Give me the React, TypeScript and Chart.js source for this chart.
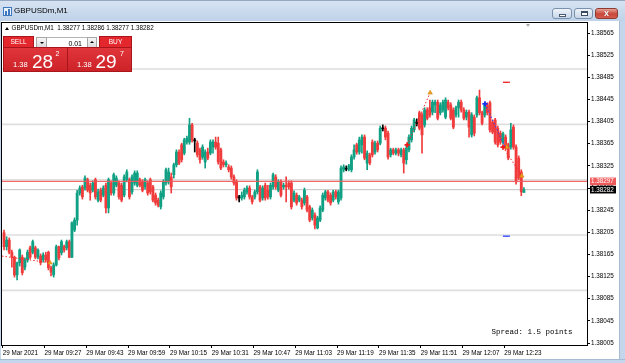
import { useEffect, useRef } from 'react';
import { Chart, registerables } from 'chart.js';

Chart.register(...registerables);

// ---------- data ----------
const opens = [
  1.38204,1.38179,1.38191,1.38169,1.38160,1.38128,1.38150,1.38160,1.38142,1.38155,
  1.38177,1.38169,1.38177,1.38160,1.38162,1.38155,1.38164,1.38169,1.38141,1.38128,
  1.38146,1.38179,1.38168,1.38179,1.38177,1.38188,1.38160,1.38209,1.38227,1.38276,
  1.38287,1.38285,1.38300,1.38290,1.38281,1.38300,1.38263,1.38281,1.38272,1.38290,
  1.38249,1.38294,1.38276,1.38290,1.38294,1.38290,1.38272,1.38300,1.38300,1.38278,
  1.38294,1.38290,1.38300,1.38296,1.38287,1.38294,1.38300,1.38287,1.38272,1.38263,
  1.38251,1.38269,1.38294,1.38296,1.38305,1.38309,1.38327,1.38350,1.38363,1.38348,
  1.38368,1.38368,1.38399,1.38372,1.38366,1.38354,1.38341,1.38332,1.38350,1.38348,
  1.38359,1.38368,1.38366,1.38354,1.38332,1.38327,1.38323,1.38321,1.38305,1.38296,
  1.38269,1.38267,1.38269,1.38278,1.38285,1.38269,1.38269,1.38278,1.38287,1.38267,
  1.38290,1.38281,1.38269,1.38287,1.38305,1.38281,1.38296,1.38287,1.38290,1.38294,
  1.38294,1.38263,1.38272,1.38263,1.38263,1.38258,1.38269,1.38251,1.38231,1.38236,
  1.38213,1.38227,1.38245,1.38267,1.38278,1.38272,1.38263,1.38278,1.38260,1.38267,
  1.38318,1.38321,1.38319,1.38318,1.38341,1.38363,1.38350,1.38363,1.38377,1.38330,
  1.38345,1.38368,1.38350,1.38366,1.38366,1.38393,1.38393,1.38384,1.38345,1.38354,
  1.38348,1.38354,1.38345,1.38354,1.38336,1.38354,1.38372,1.38390,1.38402,1.38421,
  1.38417,1.38399,1.38426,1.38430,1.38422,1.38435,1.38440,1.38421,1.38426,1.38413,
  1.38440,1.38435,1.38426,1.38417,1.38430,1.38440,1.38426,1.38413,1.38422,1.38381,
  1.38413,1.38417,1.38448,1.38421,1.38417,1.38435,1.38439,1.38404,1.38408,1.38393,
  1.38384,1.38368,1.38377,1.38363,1.38359,1.38395,1.38359,1.38339,1.38314,1.38277,
];
const highs = [
  1.38209,1.38197,1.38195,1.38173,1.38162,1.38151,1.38175,1.38164,1.38159,1.38173,
  1.38180,1.38191,1.38180,1.38175,1.38166,1.38168,1.38169,1.38171,1.38144,1.38150,
  1.38182,1.38180,1.38191,1.38182,1.38191,1.38191,1.38224,1.38231,1.38281,1.38289,
  1.38290,1.38307,1.38303,1.38294,1.38298,1.38303,1.38283,1.38285,1.38289,1.38294,
  1.38303,1.38298,1.38312,1.38307,1.38298,1.38294,1.38309,1.38318,1.38303,1.38309,
  1.38316,1.38316,1.38303,1.38300,1.38303,1.38298,1.38303,1.38290,1.38276,1.38267,
  1.38280,1.38300,1.38321,1.38321,1.38312,1.38330,1.38354,1.38354,1.38366,1.38375,
  1.38379,1.38411,1.38402,1.38375,1.38370,1.38357,1.38363,1.38354,1.38357,1.38372,
  1.38372,1.38377,1.38377,1.38357,1.38336,1.38334,1.38327,1.38325,1.38309,1.38300,
  1.38272,1.38278,1.38285,1.38289,1.38289,1.38272,1.38281,1.38318,1.38290,1.38289,
  1.38294,1.38290,1.38294,1.38312,1.38309,1.38300,1.38300,1.38294,1.38305,1.38298,
  1.38298,1.38280,1.38276,1.38272,1.38267,1.38285,1.38272,1.38254,1.38249,1.38240,
  1.38234,1.38253,1.38276,1.38281,1.38281,1.38276,1.38281,1.38281,1.38281,1.38325,
  1.38327,1.38325,1.38328,1.38345,1.38363,1.38366,1.38377,1.38381,1.38381,1.38352,
  1.38348,1.38372,1.38370,1.38370,1.38397,1.38399,1.38397,1.38388,1.38357,1.38357,
  1.38357,1.38357,1.38357,1.38357,1.38361,1.38381,1.38397,1.38411,1.38410,1.38424,
  1.38421,1.38430,1.38430,1.38444,1.38444,1.38444,1.38444,1.38439,1.38444,1.38448,
  1.38444,1.38439,1.38430,1.38433,1.38444,1.38444,1.38430,1.38426,1.38426,1.38421,
  1.38417,1.38451,1.38462,1.38424,1.38439,1.38439,1.38442,1.38408,1.38411,1.38397,
  1.38388,1.38386,1.38381,1.38366,1.38402,1.38399,1.38363,1.38343,1.38318,1.38286,
];
const lows = [
  1.38173,1.38173,1.38166,1.38142,1.38124,1.38119,1.38144,1.38128,1.38137,1.38151,
  1.38157,1.38166,1.38157,1.38157,1.38146,1.38151,1.38151,1.38137,1.38126,1.38124,
  1.38144,1.38155,1.38164,1.38169,1.38173,1.38159,1.38159,1.38206,1.38218,1.38272,
  1.38265,1.38281,1.38278,1.38263,1.38278,1.38265,1.38260,1.38260,1.38269,1.38240,
  1.38240,1.38272,1.38272,1.38287,1.38265,1.38260,1.38269,1.38296,1.38265,1.38274,
  1.38290,1.38287,1.38287,1.38278,1.38283,1.38272,1.38274,1.38260,1.38254,1.38251,
  1.38247,1.38265,1.38290,1.38292,1.38276,1.38303,1.38323,1.38327,1.38332,1.38345,
  1.38364,1.38364,1.38368,1.38350,1.38341,1.38330,1.38337,1.38321,1.38336,1.38345,
  1.38348,1.38355,1.38328,1.38318,1.38323,1.38323,1.38314,1.38301,1.38290,1.38263,
  1.38260,1.38263,1.38265,1.38274,1.38265,1.38256,1.38265,1.38274,1.38260,1.38263,
  1.38263,1.38265,1.38265,1.38283,1.38283,1.38278,1.38269,1.38283,1.38260,1.38283,
  1.38247,1.38260,1.38254,1.38260,1.38247,1.38254,1.38242,1.38224,1.38227,1.38211,
  1.38211,1.38224,1.38242,1.38263,1.38260,1.38254,1.38260,1.38265,1.38256,1.38263,
  1.38314,1.38316,1.38316,1.38314,1.38337,1.38346,1.38346,1.38348,1.38336,1.38318,
  1.38327,1.38341,1.38346,1.38350,1.38363,1.38388,1.38372,1.38337,1.38341,1.38345,
  1.38345,1.38343,1.38341,1.38312,1.38328,1.38350,1.38368,1.38386,1.38397,1.38390,
  1.38348,1.38395,1.38408,1.38413,1.38417,1.38421,1.38408,1.38417,1.38422,1.38410,
  1.38426,1.38408,1.38392,1.38413,1.38413,1.38422,1.38408,1.38408,1.38377,1.38377,
  1.38379,1.38413,1.38417,1.38399,1.38413,1.38417,1.38386,1.38383,1.38364,1.38359,
  1.38364,1.38364,1.38354,1.38336,1.38355,1.38355,1.38292,1.38300,1.38271,1.38277,
];
const closes = [
  1.38179,1.38191,1.38169,1.38160,1.38128,1.38150,1.38173,1.38132,1.38155,1.38169,
  1.38160,1.38188,1.38160,1.38173,1.38150,1.38164,1.38155,1.38141,1.38133,1.38146,
  1.38179,1.38159,1.38188,1.38173,1.38188,1.38160,1.38222,1.38227,1.38276,1.38285,
  1.38269,1.38303,1.38281,1.38276,1.38294,1.38269,1.38278,1.38263,1.38285,1.38249,
  1.38300,1.38276,1.38309,1.38303,1.38269,1.38263,1.38305,1.38314,1.38269,1.38305,
  1.38312,1.38312,1.38290,1.38281,1.38300,1.38276,1.38278,1.38263,1.38258,1.38254,
  1.38276,1.38296,1.38318,1.38314,1.38287,1.38327,1.38350,1.38330,1.38336,1.38372,
  1.38375,1.38399,1.38372,1.38370,1.38345,1.38336,1.38359,1.38350,1.38339,1.38368,
  1.38368,1.38359,1.38332,1.38321,1.38327,1.38330,1.38318,1.38305,1.38294,1.38267,
  1.38267,1.38272,1.38281,1.38285,1.38269,1.38260,1.38278,1.38314,1.38263,1.38285,
  1.38267,1.38269,1.38290,1.38309,1.38287,1.38296,1.38272,1.38290,1.38287,1.38287,
  1.38251,1.38276,1.38258,1.38269,1.38251,1.38281,1.38245,1.38227,1.38245,1.38218,
  1.38231,1.38249,1.38272,1.38278,1.38263,1.38258,1.38278,1.38269,1.38278,1.38321,
  1.38323,1.38319,1.38325,1.38341,1.38354,1.38350,1.38372,1.38377,1.38339,1.38348,
  1.38330,1.38345,1.38366,1.38354,1.38393,1.38392,1.38377,1.38341,1.38354,1.38348,
  1.38354,1.38348,1.38354,1.38330,1.38357,1.38377,1.38393,1.38408,1.38404,1.38393,
  1.38381,1.38426,1.38411,1.38417,1.38440,1.38440,1.38411,1.38435,1.38440,1.38444,
  1.38430,1.38411,1.38395,1.38430,1.38440,1.38426,1.38411,1.38422,1.38395,1.38417,
  1.38384,1.38448,1.38421,1.38402,1.38435,1.38421,1.38390,1.38386,1.38368,1.38363,
  1.38368,1.38383,1.38357,1.38339,1.38390,1.38359,1.38296,1.38303,1.38278,1.38282,
];

const priceTicks = [
  1.38005, 1.38045, 1.38085, 1.38125, 1.38165, 1.38205, 1.38245, 1.38285,
  1.38325, 1.38365, 1.38405, 1.38445, 1.38485, 1.38525, 1.38565,
];
const gridPrices = [1.381, 1.382, 1.383, 1.384, 1.385];
const timeTickBars = [-0.5, 15.5, 31.5, 47.5, 63.5, 79.5, 95.5, 111.5, 127.5, 143.5, 159.5, 175.5, 191.5];
const timeTickLabels = [
  '29 Mar 2021', '29 Mar 09:27', '29 Mar 09:43', '29 Mar 09:59', '29 Mar 10:15',
  '29 Mar 10:31', '29 Mar 10:47', '29 Mar 11:03', '29 Mar 11:19', '29 Mar 11:35',
  '29 Mar 11:51', '29 Mar 12:07', '29 Mar 12:23',
];
const askPrice = 1.38297;
const bidPrice = 1.38282;

// trade history lines (bar position, price)
const sell1Bars = [-0.77, 17.6];
const sell1Prices = [1.38162, 1.3815];
const sell2Bars = [154.3, 163.1];
const sell2Prices = [1.38363, 1.38457];
const buy1Bars = [184.1, 191.8];
const buy1Prices = [1.38437, 1.38359];
const sell3Bars = [191.0, 198.2];
const sell3Prices = [1.38359, 1.38307];
const redCrossBars = [154.3, 191.0];
const redCrossPrices = [1.38363, 1.38359];
const blueCrossBars = [184.1];
const blueCrossPrices = [1.38437];
const closeArrowBars = [17.6, 163.1, 192.4, 198.2];
const closeArrowPrices = [1.3815, 1.38457, 1.38359, 1.38307];
const stopBars = [192.3];
const stopPrices = [1.38476];
const takeBars = [192.3];
const takePrices = [1.38198];

const UP = '#10a083';
const DOWN = '#f03c3c';
const DOJI = '#000000';
const FONT = "'Liberation Sans', Arial, sans-serif";

const pts = (xs: number[], ys: number[]) => xs.map((x, i) => ({ x, y: ys[i] }));

const mtPlugin = {
  id: 'mtDecor',
  beforeDatasetsDraw(chart: any) {
    const { ctx, chartArea: a, scales } = chart;
    const y = scales.y;
    ctx.save();
    ctx.beginPath();
    ctx.rect(a.left, a.top, a.right - a.left, a.bottom - a.top);
    ctx.clip();
    ctx.strokeStyle = '#dedede';
    ctx.lineWidth = 1.6;
    gridPrices.forEach((p) => {
      const py = y.getPixelForValue(p);
      ctx.beginPath();
      ctx.moveTo(a.left, py);
      ctx.lineTo(a.right, py);
      ctx.stroke();
    });
    ctx.strokeStyle = '#c2c2c2';
    ctx.lineWidth = 1;
    const by = y.getPixelForValue(bidPrice);
    ctx.beginPath();
    ctx.moveTo(a.left, by);
    ctx.lineTo(a.right, by);
    ctx.stroke();
    ctx.restore();
  },
  afterDatasetsDraw(chart: any) {
    const { ctx, chartArea: a, scales } = chart;
    const ay = scales.y.getPixelForValue(askPrice);
    ctx.save();
    ctx.strokeStyle = 'rgba(236,90,90,0.9)';
    ctx.lineWidth = 1.4;
    ctx.beginPath();
    ctx.moveTo(a.left, ay);
    ctx.lineTo(a.right, ay);
    ctx.stroke();
    ctx.restore();
  },
  afterDraw(chart: any) {
    const { ctx, chartArea: a, scales } = chart;
    const y = scales.y;
    ctx.save();
    ctx.strokeStyle = '#000';
    ctx.lineWidth = 1;
    ctx.strokeRect(a.left - 0.5, a.top - 0.5, a.right - a.left + 1, a.bottom - a.top + 1);
    const tag = (price: number, bg: string) => {
      const py = y.getPixelForValue(price);
      ctx.fillStyle = bg;
      ctx.fillRect(a.right + 3, py - 3.8, 26, 7.6);
      ctx.fillStyle = '#fff';
      ctx.font = `6.3px ${FONT}`;
      ctx.textBaseline = 'middle';
      ctx.textAlign = 'left';
      ctx.fillText(price.toFixed(5), a.right + 4, py + 0.3);
    };
    tag(askPrice, '#f05a5a');
    tag(bidPrice, '#000000');
    ctx.restore();
  },
};

export default function App() {
  const ref = useRef<HTMLCanvasElement>(null);

  useEffect(() => {
    document.body.style.margin = '0';
    const colors = opens.map((o, i) =>
      Math.abs(closes[i] - o) < 0.000025 ? DOJI : closes[i] > o ? UP : DOWN
    );
    const barPositions = opens.map((_, i) => i);
    const chart = new Chart(ref.current as HTMLCanvasElement, {
      type: 'bar',
      data: {
        labels: barPositions,
        datasets: [
          {
            type: 'bar',
            label: 'wick',
            data: lows.map((l, i) => [l, highs[i]]),
            backgroundColor: colors,
            barThickness: 1,
            grouped: false,
            borderWidth: 0,
            order: 5,
          } as any,
          {
            type: 'bar',
            label: 'body',
            data: opens.map((o, i) => [o, closes[i]]),
            backgroundColor: colors,
            barThickness: 2.2,
            minBarLength: 1,
            grouped: false,
            borderWidth: 0,
            order: 4,
          } as any,
          {
            type: 'line',
            data: pts(sell1Bars, sell1Prices),
            borderColor: '#f02828',
            borderWidth: 1,
            borderDash: [1.5, 2],
            pointRadius: 0,
            order: 3,
          } as any,
          {
            type: 'line',
            data: pts(sell2Bars, sell2Prices),
            borderColor: '#f02828',
            borderWidth: 1,
            borderDash: [1.5, 2],
            pointRadius: 0,
            order: 3,
          } as any,
          {
            type: 'line',
            data: pts(buy1Bars, buy1Prices),
            borderColor: '#2a3cff',
            borderWidth: 1,
            borderDash: [1.5, 2],
            pointRadius: 0,
            order: 3,
          } as any,
          {
            type: 'line',
            data: pts(sell3Bars, sell3Prices),
            borderColor: '#f02828',
            borderWidth: 1,
            borderDash: [1.5, 2],
            pointRadius: 0,
            order: 3,
          } as any,
          {
            type: 'line',
            showLine: false,
            data: pts(closeArrowBars, closeArrowPrices),
            pointStyle: 'triangle',
            pointRadius: 2.6,
            pointBackgroundColor: '#f0a21e',
            pointBorderColor: '#d08410',
            pointBorderWidth: 0.6,
            order: 2,
          } as any,
          {
            type: 'line',
            showLine: false,
            data: pts(redCrossBars, redCrossPrices),
            pointStyle: 'cross',
            pointRadius: 2.6,
            pointBorderColor: '#f01818',
            pointBorderWidth: 1.8,
            order: 1,
          } as any,
          {
            type: 'line',
            showLine: false,
            data: pts(blueCrossBars, blueCrossPrices),
            pointStyle: 'cross',
            pointRadius: 2.6,
            pointBorderColor: '#1830f0',
            pointBorderWidth: 1.8,
            order: 1,
          } as any,
          {
            type: 'line',
            showLine: false,
            data: pts(stopBars, stopPrices),
            pointStyle: 'line',
            pointRadius: 3.5,
            pointBorderColor: '#f02020',
            pointBorderWidth: 1.3,
            order: 1,
          } as any,
          {
            type: 'line',
            showLine: false,
            data: pts(takeBars, takePrices),
            pointStyle: 'line',
            pointRadius: 3.5,
            pointBorderColor: '#2a3cff',
            pointBorderWidth: 1.3,
            order: 1,
          } as any,
        ],
      },
      options: {
        responsive: false,
        animation: false,
        devicePixelRatio: 1,
        layout: { autoPadding: false, padding: { left: 2, top: 23, right: 0, bottom: 0 } },
        plugins: { legend: { display: false }, tooltip: { enabled: false } },
        scales: {
          x: {
            type: 'linear',
            min: -0.77,
            max: 223.15,
            offset: false,
            afterBuildTicks: (s: any) => {
              s.ticks = timeTickBars.map((v) => ({ value: v }));
            },
            afterFit: (s: any) => {
              s.height = 18;
              s.paddingLeft = 0;
              s.paddingRight = 0;
            },
            ticks: {
              callback: (_v: any, i: number) => timeTickLabels[i] ?? '',
              align: 'start',
              maxRotation: 0,
              minRotation: 0,
              autoSkip: false,
              padding: 1,
              color: '#000',
              font: { family: FONT, size: 6.3 },
            },
            grid: { offset: false, drawOnChartArea: false, drawTicks: true, tickLength: 3, color: '#000', lineWidth: 1 },
            border: { display: false },
          },
          y: {
            type: 'linear',
            position: 'right',
            min: 1.380014,
            max: 1.385831,
            beginAtZero: false,
            afterBuildTicks: (s: any) => {
              s.ticks = priceTicks.map((v) => ({ value: v }));
            },
            afterFit: (s: any) => {
              s.width = 38;
              s.paddingTop = 0;
              s.paddingBottom = 0;
            },
            ticks: {
              callback: (v: any) => Number(v).toFixed(5),
              autoSkip: false,
              padding: 1,
              color: '#000',
              font: { family: FONT, size: 6.3 },
            },
            grid: { drawOnChartArea: false, drawTicks: true, tickLength: 3, color: '#000', lineWidth: 1 },
            border: { display: false },
          },
        },
      } as any,
      plugins: [mtPlugin as any],
    });
    return () => chart.destroy();
  }, []);

  const abs = (s: any) => ({ position: 'absolute', boxSizing: 'border-box', ...s });
  const redBox = 'linear-gradient(#e0353a, #cc2329)';

  return (
    <div
      style={{
        position: 'fixed',
        left: 0,
        top: 0,
        width: 625,
        height: 363,
        overflow: 'hidden',
        background: '#ffffff',
        fontFamily: FONT,
      }}
    >
      <canvas ref={ref} width={625} height={363} style={{ position: 'absolute', left: 0, top: 0, width: 625, height: 363 }} />

      {/* window frame */}
      <div style={abs({ left: 0, top: 0, width: 625, height: 21, background: 'linear-gradient(#d6e3f2, #bfd2e9)', borderTop: '1px solid #95a8bf' })} />
      <div style={abs({ left: 0, top: 21, width: 1, height: 342, background: '#c3d6ec' })} />
      <div style={abs({ left: 619, top: 21, width: 6, height: 342, background: '#c3d6ec', borderLeft: '1px solid #a7bbd3' })} />
      <div style={abs({ left: 0, top: 359, width: 625, height: 4, background: '#c3d6ec', borderTop: '1px solid #a7bbd3' })} />

      {/* title */}
      <div style={abs({ left: 3, top: 7, width: 9, height: 9, border: '1px solid #3d78c0', background: '#eaf2fb' })}>
        <div style={abs({ left: 1, top: 3, width: 2, height: 4, background: '#3d78c0' })} />
        <div style={abs({ left: 4, top: 1, width: 2, height: 6, background: '#3d78c0' })} />
      </div>
      <div style={abs({ left: 14, top: 6, fontSize: 8, lineHeight: '10px', color: '#000', whiteSpace: 'nowrap' })}>GBPUSDm,M1</div>

      {/* window buttons */}
      <div style={abs({ left: 552, top: 8, width: 20, height: 11, border: '1px solid #7b90ab', borderRadius: 3, background: 'linear-gradient(#eef3f9, #c7d6e8)' })}>
        <div style={abs({ left: 6, top: 5, width: 7, height: 3, background: '#fff', border: '1px solid #4b5b72' })} />
      </div>
      <div style={abs({ left: 574, top: 8, width: 19, height: 11, border: '1px solid #7b90ab', borderRadius: 3, background: 'linear-gradient(#eef3f9, #c7d6e8)' })}>
        <div style={abs({ left: 6, top: 2, width: 7, height: 5, border: '1px solid #3c4b62', borderTopWidth: 2, background: '#fff' })} />
      </div>
      <div style={abs({ left: 595, top: 8, width: 23, height: 11, border: '1px solid #8d3a32', borderRadius: 3, background: 'linear-gradient(#e9a195, #c9473b 55%, #d65b4c)' })}>
        <div style={abs({ left: 0, top: -1, width: 21, textAlign: 'center', fontSize: 9, fontWeight: 'bold', lineHeight: '11px', color: '#fff', textShadow: '0 0 1px #5a1a14' })}>x</div>
      </div>

      {/* chart header */}
      <div style={abs({ left: 5, top: 26.5, width: 0, height: 0, borderLeft: '2px solid transparent', borderRight: '2px solid transparent', borderBottom: '3px solid #000' })} />
      <div style={abs({ left: 11.5, top: 25.2, fontSize: 6.3, lineHeight: '6.3px', color: '#000', whiteSpace: 'pre' })}>
        GBPUSDm,M1  1.38277 1.38286 1.38277 1.38282
      </div>
      <div style={abs({ left: 526, top: 23.5, width: 0, height: 0, borderLeft: '2.5px solid transparent', borderRight: '2.5px solid transparent', borderTop: '3px solid #a8a8a8' })} />

      {/* one-click trading panel */}
      <div style={abs({ left: 3, top: 36, width: 31, height: 12, background: '#e4272d', border: '1px solid #a8161c' })}>
        <div style={abs({ left: 0, top: 2, width: 29, textAlign: 'center', fontSize: 6.6, lineHeight: '6.6px', color: '#fff' })}>SELL</div>
      </div>
      <div style={abs({ left: 36, top: 37, width: 11, height: 10.5, background: 'linear-gradient(#f6f6f6, #dcdcdc)', border: '1px solid #a6a6a6' })}>
        <div style={abs({ left: 2.5, top: 3.5, width: 0, height: 0, borderLeft: '2px solid transparent', borderRight: '2px solid transparent', borderTop: '2px solid #000' })} />
      </div>
      <div style={abs({ left: 47, top: 37, width: 40, height: 10.5, background: '#fff', borderTop: '1px solid #b4b4b4', borderBottom: '1px solid #b4b4b4' })}>
        <div style={abs({ right: 5, top: 1.5, fontSize: 7, lineHeight: '7px', color: '#000' })}>0.01</div>
      </div>
      <div style={abs({ left: 87, top: 37, width: 10, height: 10.5, background: 'linear-gradient(#f6f6f6, #dcdcdc)', border: '1px solid #a6a6a6' })}>
        <div style={abs({ left: 2, top: 3, width: 0, height: 0, borderLeft: '2px solid transparent', borderRight: '2px solid transparent', borderBottom: '2px solid #000' })} />
      </div>
      <div style={abs({ left: 99, top: 36, width: 33, height: 12, background: '#e4272d', border: '1px solid #a8161c' })}>
        <div style={abs({ left: 0, top: 2, width: 31, textAlign: 'center', fontSize: 6.6, lineHeight: '6.6px', color: '#fff' })}>BUY</div>
      </div>
      <div style={abs({ left: 3, top: 47, width: 65, height: 25, background: redBox, border: '1px solid #a8161c' })}>
        <div style={abs({ left: 9, top: 13, fontSize: 7.6, lineHeight: '7.6px', color: '#fff' })}>1.38</div>
        <div style={abs({ left: 28, top: 3.5, fontSize: 19, lineHeight: '19px', color: '#fff' })}>28</div>
        <div style={abs({ left: 51.5, top: 2, fontSize: 7, lineHeight: '7px', color: '#fff' })}>2</div>
      </div>
      <div style={abs({ left: 67, top: 47, width: 65, height: 25, background: redBox, border: '1px solid #a8161c' })}>
        <div style={abs({ left: 9, top: 13, fontSize: 7.6, lineHeight: '7.6px', color: '#fff' })}>1.38</div>
        <div style={abs({ left: 27.5, top: 3.5, fontSize: 19, lineHeight: '19px', color: '#fff' })}>29</div>
        <div style={abs({ left: 52, top: 2, fontSize: 7, lineHeight: '7px', color: '#fff' })}>7</div>
      </div>

      {/* spread */}
      <div style={abs({ left: 491.5, top: 328.5, fontFamily: "'Liberation Mono', 'DejaVu Sans Mono', monospace", fontSize: 7.5, lineHeight: '7.5px', color: '#000', whiteSpace: 'pre' })}>
        Spread: 1.5 points
      </div>
    </div>
  );
}
